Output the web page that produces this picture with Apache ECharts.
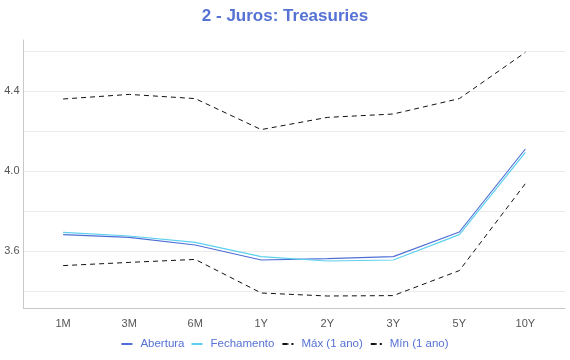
<!DOCTYPE html>
<html><head><meta charset="utf-8">
<script src="https://cdn.jsdelivr.net/npm/echarts@6/dist/echarts.min.js"></script>
<style>html,body{margin:0;padding:0;background:#fff}#c{width:570px;height:360px}</style>
</head><body><div id="c"></div>
<script>
const categories = ['1M','3M','6M','1Y','2Y','3Y','5Y','10Y'];
const abertura = [3.682,3.668,3.630,3.555,3.562,3.572,3.695,4.110];
const fechamento = [3.693,3.675,3.643,3.572,3.550,3.555,3.682,4.093];
const maxAno = [4.360,4.383,4.362,4.207,4.268,4.285,4.362,4.593];
const minAno = [3.527,3.543,3.558,3.390,3.375,3.377,3.502,3.937];
const yLabels = [3.6,4.0,4.4];
const yGrid = [3.4,3.6,3.8,4.0,4.2,4.4,4.6];

const pts = a => a.map((v,i)=>[i,v]);
const chart = echarts.init(document.getElementById('c'));
chart.setOption({
  animation:false,
  title:{text:'2 - Juros: Treasuries',left:'center',top:3,textStyle:{color:'#5572d4',fontSize:17,fontWeight:'bold',fontFamily:'Liberation Sans, Arial, sans-serif'}},
  legend:{bottom:5,left:'center',itemWidth:11,itemHeight:2,itemGap:7,
    textStyle:{color:'#5572d4',fontSize:11.5,padding:[0,0,0,3],fontFamily:'Liberation Sans, Arial, sans-serif'},
    data:[{name:'Abertura',icon:'rect'},{name:'Fechamento',icon:'rect'},{name:'Máx (1 ano)'},{name:'Mín (1 ano)'}]},
  grid:{left:23.5,right:5,top:40,bottom:52},
  xAxis:{type:'value',min:-0.6,max:7.6,
    axisLine:{show:true,onZero:false,lineStyle:{color:'#c8c8c8'}},axisTick:{show:false},splitLine:{show:false},
    axisLabel:{customValues:categories.map((c,i)=>i),formatter:v=>categories[Math.round(v)],color:'#555',fontSize:11,fontFamily:'Liberation Sans, Arial, sans-serif',margin:10}},
  yAxis:{type:'value',min:3.315,max:4.655,
    axisLine:{show:true,onZero:false,lineStyle:{color:'#c8c8c8'}},
    axisTick:{show:false,customValues:yGrid},
    axisLabel:{customValues:yLabels,formatter:v=>v.toFixed(1),color:'#555',fontSize:11,fontFamily:'Liberation Sans, Arial, sans-serif',margin:4},
    splitLine:{show:true,lineStyle:{color:'#ebebeb',width:1}}},
  series:[
    {name:'Abertura',type:'line',data:pts(abertura),symbol:'none',color:'#4f6fd6',lineStyle:{width:1.2,color:'#4f6fd6'}},
    {name:'Fechamento',type:'line',data:pts(fechamento),symbol:'none',color:'#5cd0ef',lineStyle:{width:1.2,color:'#5cd0ef'}},
    {name:'Máx (1 ano)',type:'line',data:pts(maxAno),symbol:'none',color:'#111',lineStyle:{width:1,color:'#111',type:[5,4]}},
    {name:'Mín (1 ano)',type:'line',data:pts(minAno),symbol:'none',color:'#111',lineStyle:{width:1,color:'#111',type:[5,4]}}
  ]
});
</script></body></html>
